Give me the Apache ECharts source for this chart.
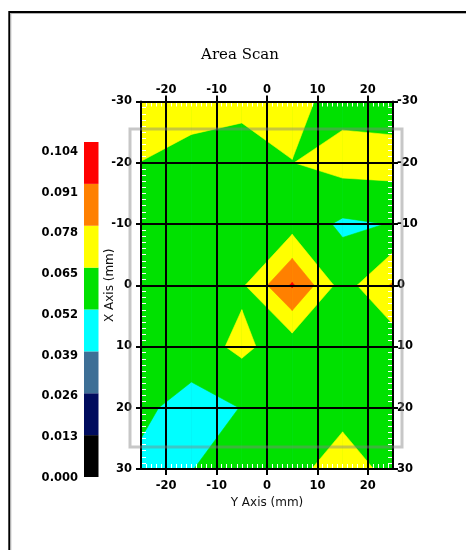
<!DOCTYPE html>
<html><head><meta charset="utf-8">
<script src="https://cdn.jsdelivr.net/npm/echarts@6/dist/echarts.min.js"></script>
<style>html,body{margin:0;padding:0;background:#fff}#chart{width:466px;height:550px}</style>
</head><body><div id="chart"></div>
<script>
// Scan positions
const yAxisPositions = [-25, -15, -5, 5, 15, 25];        // "Y Axis (mm)" (horizontal)
const xAxisPositions = [-30, -20, -10, 0, 10, 20, 30];   // "X Axis (mm)" (vertical)
// Measured values, one row per X position (columns follow yAxisPositions)
const rowXm30 = [0.0690, 0.0700, 0.0700, 0.0684, 0.0606, 0.0585];
const rowXm20 = [0.0649, 0.0607, 0.0557, 0.0648, 0.0700, 0.0704];
const rowXm10 = [0.0570, 0.0580, 0.0590, 0.0594, 0.0500, 0.0524];
const rowX0   = [0.0580, 0.0600, 0.0630, 0.0925, 0.0591, 0.0795];
const rowX10  = [0.0570, 0.0589, 0.0680, 0.0573, 0.0580, 0.0568];
const rowX20  = [0.0547, 0.0470, 0.0523, 0.0580, 0.0624, 0.0570];
const rowX30  = [0.0493, 0.0518, 0.0558, 0.0625, 0.0690, 0.0625];
// Colour scale
const legendLevels = [0.000, 0.013, 0.026, 0.039, 0.052, 0.065, 0.078, 0.091, 0.104];
const levelColors = ['#000000', '#000c5e', '#3d6f96', '#00ffff', '#00e100', '#ffff00', '#ff8000', '#ff0000'];
// Tick labels
const yTickValues = [-20, -10, 0, 10, 20];

const valueRows = [rowXm30, rowXm20, rowXm10, rowX0, rowX10, rowX20, rowX30];

function cellPolys(pts, vals, L) {
  const above = vals.map(v => v >= L);
  const n = above.filter(Boolean).length;
  if (n === 0) return [];
  if (n === 4) return [pts];
  const cross = (a, b) => {
    const t = (L - vals[a]) / (vals[b] - vals[a]);
    return [pts[a][0] + t * (pts[b][0] - pts[a][0]), pts[a][1] + t * (pts[b][1] - pts[a][1])];
  };
  if (n === 2 && above[0] === above[2]) {
    const polys = [];
    for (let i = 0; i < 4; i++) if (above[i]) {
      const prev = (i + 3) % 4, next = (i + 1) % 4;
      polys.push([cross(prev, i), pts[i], cross(i, next)]);
    }
    return polys;
  }
  const poly = [];
  for (let i = 0; i < 4; i++) {
    const j = (i + 1) % 4;
    if (above[i]) poly.push(pts[i]);
    if (above[i] !== above[j]) poly.push(cross(i, j));
  }
  return [poly];
}

const cellData = [];
for (let j = 0; j < xAxisPositions.length - 1; j++) {
  for (let i = 0; i < yAxisPositions.length - 1; i++) {
    cellData.push([(yAxisPositions[i] + yAxisPositions[i + 1]) / 2, (xAxisPositions[j] + xAxisPositions[j + 1]) / 2, i, j]);
  }
}

const axisFont = { fontFamily: 'DejaVu Sans', fontWeight: 'bold', fontSize: 11.5, color: '#000' };
const nameFont = { fontFamily: 'DejaVu Sans', fontSize: 12, color: '#111' };
const blackLine = { color: '#000', width: 2 };

const chart = echarts.init(document.getElementById('chart'));
chart.setOption({
  animation: false,
  backgroundColor: '#fff',
  title: { text: 'Area Scan', left: 235, top: 43, textAlign: 'center',
    textStyle: { fontFamily: 'DejaVu Serif', fontWeight: 'normal', fontSize: 15, color: '#000' } },
  grid: [
    { left: 141, top: 101.5, width: 252, height: 367.5 },
    { left: 84, top: 142, width: 14.5, height: 335 },
    { left: 84, top: 152, width: 14.5, height: 326 }
  ],
  xAxis: [
    { gridIndex: 0, type: 'value', position: 'bottom', min: -25, max: 25, splitNumber: 5, z: 5,
      name: 'Y Axis (mm)', nameLocation: 'middle', nameGap: 28, nameMoveOverlap: false, nameTextStyle: nameFont,
      axisLine: { show: true, onZero: false, lineStyle: blackLine },
      axisTick: { show: true, length: 6, lineStyle: blackLine, customValues: yTickValues },
      axisLabel: Object.assign({ margin: 11, customValues: yTickValues }, axisFont),
      splitLine: { show: true, lineStyle: blackLine } },
    { gridIndex: 0, type: 'value', position: 'top', min: -25, max: 25, splitNumber: 5, z: 5,
      axisLine: { show: true, onZero: false, lineStyle: blackLine },
      axisTick: { show: true, length: 6, lineStyle: blackLine, customValues: yTickValues },
      axisLabel: Object.assign({ margin: 5, customValues: yTickValues }, axisFont),
      splitLine: { show: false } },
    { gridIndex: 0, type: 'value', position: 'top', min: -25, max: 25, interval: 1, z: 4,
      axisLine: { show: false, onZero: false }, axisLabel: { show: false }, splitLine: { show: false },
      axisTick: { show: true, inside: true, length: 5, lineStyle: { color: '#fff', width: 1 } } },
    { gridIndex: 0, type: 'value', position: 'bottom', min: -25, max: 25, interval: 1, z: 4,
      axisLine: { show: false, onZero: false }, axisLabel: { show: false }, splitLine: { show: false },
      axisTick: { show: true, inside: true, length: 5, lineStyle: { color: '#fff', width: 1 } } },
    { gridIndex: 1, type: 'value', min: 0, max: 1, show: false },
    { gridIndex: 2, type: 'value', min: 0, max: 1, show: false }
  ],
  yAxis: [
    { gridIndex: 0, type: 'value', position: 'left', min: -30, max: 30, interval: 10, inverse: true, z: 5,
      name: 'X Axis (mm)', nameLocation: 'middle', nameGap: 25, nameRotate: 90, nameMoveOverlap: false, nameTextStyle: nameFont,
      axisLine: { show: true, onZero: false, lineStyle: blackLine },
      axisTick: { show: true, length: 5, lineStyle: blackLine },
      axisLabel: Object.assign({ margin: 9 }, axisFont),
      splitLine: { show: true, lineStyle: blackLine } },
    { gridIndex: 0, type: 'value', position: 'right', min: -30, max: 30, interval: 10, inverse: true, z: 5,
      axisLine: { show: true, onZero: false, lineStyle: blackLine },
      axisTick: { show: true, length: 5, lineStyle: blackLine },
      axisLabel: Object.assign({ margin: 4 }, axisFont),
      splitLine: { show: false } },
    { gridIndex: 0, type: 'value', position: 'left', min: -30, max: 30, interval: 1, inverse: true, z: 4,
      axisLine: { show: false, onZero: false }, axisLabel: { show: false }, splitLine: { show: false },
      axisTick: { show: true, inside: true, length: 5, lineStyle: { color: '#fff', width: 1 } } },
    { gridIndex: 0, type: 'value', position: 'right', min: -30, max: 30, interval: 1, inverse: true, z: 4,
      axisLine: { show: false, onZero: false }, axisLabel: { show: false }, splitLine: { show: false },
      axisTick: { show: true, inside: true, length: 5, lineStyle: { color: '#fff', width: 1 } } },
    { gridIndex: 1, type: 'value', min: 0, max: 0.104, show: false },
    { gridIndex: 2, type: 'value', min: 0, max: 0.104, interval: 0.013,
      axisLine: { show: false, onZero: false }, axisTick: { show: false }, splitLine: { show: false },
      axisLabel: Object.assign({ margin: 6, formatter: v => v.toFixed(3) }, axisFont) }
  ],
  series: [
    { type: 'custom', xAxisIndex: 0, yAxisIndex: 0, z: 1, silent: true, data: cellData,
      renderItem: function (params, api) {
        const i = api.value(2), j = api.value(3);
        const corners = [[i, j], [i + 1, j], [i + 1, j + 1], [i, j + 1]];
        const pts = corners.map(c => api.coord([yAxisPositions[c[0]], xAxisPositions[c[1]]]));
        const vals = corners.map(c => valueRows[c[1]][c[0]]);
        const children = [];
        for (let k = 0; k < levelColors.length; k++) {
          const L = k === 0 ? -Infinity : legendLevels[k];
          cellPolys(pts, vals, L).forEach(p => children.push({
            type: 'polygon', z2: k, shape: { points: p },
            style: { fill: levelColors[k], stroke: levelColors[k], lineWidth: 0.6 }
          }));
        }
        return { type: 'group', children: children };
      } },
    { type: 'custom', xAxisIndex: 4, yAxisIndex: 4, silent: true,
      data: levelColors.map((c, k) => [0.5, (legendLevels[k] + legendLevels[k + 1]) / 2, k]),
      renderItem: function (params, api) {
        const k = api.value(2);
        const p1 = api.coord([0, legendLevels[k + 1]]);
        const p2 = api.coord([1, legendLevels[k]]);
        return { type: 'rect', shape: { x: p1[0], y: p1[1], width: p2[0] - p1[0], height: p2[1] - p1[1] },
          style: { fill: levelColors[k] } };
      } }
  ],
  graphic: [
    { type: 'rect', z: 100, silent: true, shape: { x: 130, y: 129, width: 272, height: 318 },
      style: { fill: 'none', stroke: 'rgba(130,130,130,0.45)', lineWidth: 3 } },
    { type: 'rect', z: 100, silent: true, shape: { x: 9.3, y: 12, width: 700, height: 700 },
      style: { fill: 'none', stroke: '#000', lineWidth: 2 } },
    { type: 'rect', z: 100, silent: true, shape: { x: 10.8, y: 13.5, width: 700, height: 700 },
      style: { fill: 'none', stroke: '#b0b0b0', lineWidth: 1 } }
  ]
});
</script></body></html>
